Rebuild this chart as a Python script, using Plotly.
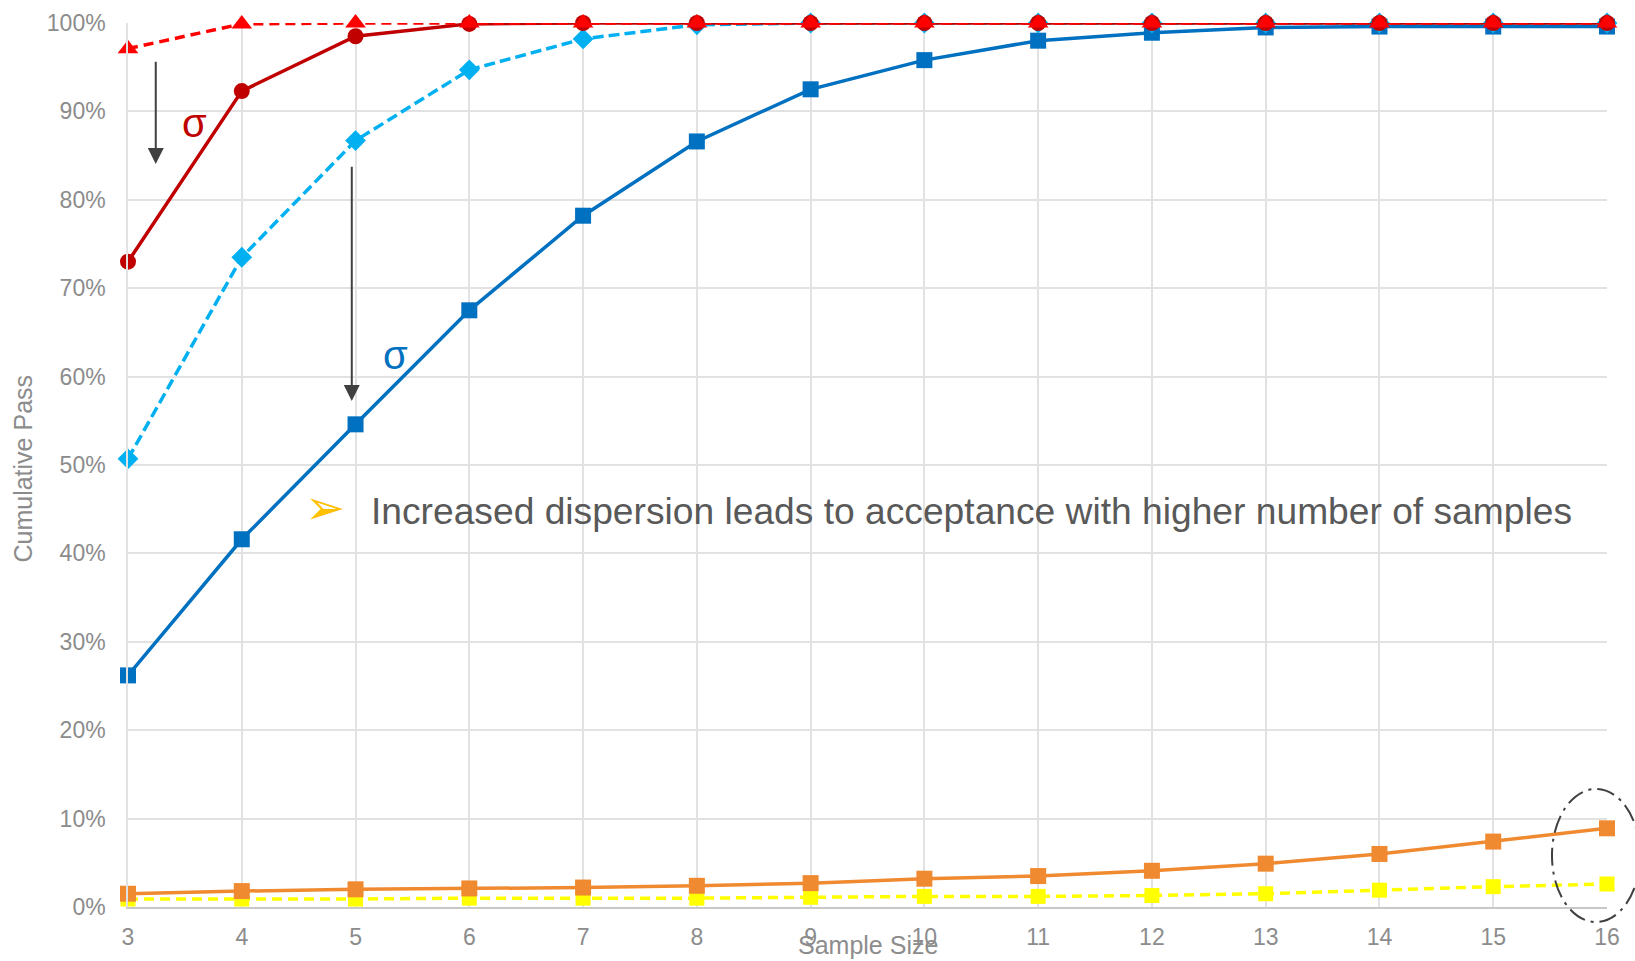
import plotly.graph_objects as go

# Sample sizes on the x axis
sample_size = list(range(3, 17))

# Cumulative pass rates per series (fractions)
red_dashed = [0.971, 0.999, 1.0, 1.0, 1.0, 1.0, 1.0, 1.0, 1.0, 1.0, 1.0, 1.0, 1.0, 1.0]
darkred_solid = [0.730, 0.923, 0.985, 0.999, 1.0, 1.0, 1.0, 1.0, 1.0, 1.0, 1.0, 1.0, 1.0, 1.0]
lightblue_dashed = [0.507, 0.735, 0.867, 0.947, 0.982, 0.998, 1.0, 1.0, 1.0, 1.0, 1.0, 1.0, 1.0, 1.0]
blue_solid = [0.262, 0.416, 0.546, 0.675, 0.782, 0.866, 0.925, 0.958, 0.980, 0.989, 0.995, 0.996, 0.996, 0.996]
orange_solid = [0.015, 0.018, 0.020, 0.021, 0.022, 0.024, 0.027, 0.032, 0.035, 0.041, 0.049, 0.060, 0.074, 0.089]
yellow_dashed = [0.009, 0.009, 0.009, 0.010, 0.010, 0.010, 0.011, 0.012, 0.012, 0.013, 0.015, 0.019, 0.023, 0.026]

y_ticks = [i / 10 for i in range(11)]
y_tick_text = [f"{i * 10}%" for i in range(11)]

FONT = "Liberation Sans, Arial, sans-serif"
GRID = "#E2E2E2"
TICK_GREY = "#8C8C8C"

fig = go.Figure()


def add_series(values, color, symbol, dash, size=15):
    fig.add_trace(go.Scatter(
        x=sample_size, y=values, mode="lines+markers",
        line=dict(color=color, width=3.5, dash=dash),
        marker=dict(color=color, symbol=symbol, size=size,
                    line=dict(color=color, width=0)),
        cliponaxis=False, showlegend=False, hoverinfo="x+y",
    ))


# drawn bottom to top
add_series(yellow_dashed, "#FFFF00", "square", "10px,6px", 15)
add_series(orange_solid, "#F08A30", "square", "solid", 16)
add_series(blue_solid, "#0070C0", "square", "solid", 16)
add_series(lightblue_dashed, "#00B0F0", "diamond", "11px,5px", 16)
add_series(darkred_solid, "#C00000", "circle", "solid", 16)
add_series(red_dashed, "#FF0000", "triangle-up", "10px,6px", 18)

annotations = [
    # axis titles
    dict(text="Sample Size", xref="paper", yref="paper", x=0.5, y=-0.043,
         xanchor="center", yanchor="middle", showarrow=False,
         font=dict(family=FONT, size=25, color=TICK_GREY)),
    dict(text="Cumulative Pass", xref="paper", yref="paper", x=-0.071, y=0.496,
         xanchor="center", yanchor="middle", showarrow=False, textangle=-90,
         font=dict(family=FONT, size=25, color=TICK_GREY)),
    # sigma labels
    dict(text="σ", xref="x", yref="y", x=3.587, y=0.887, showarrow=False,
         xanchor="center", yanchor="middle",
         font=dict(family=FONT, size=40, color="#C00000")),
    dict(text="σ", xref="x", yref="y", x=5.354, y=0.625, showarrow=False,
         xanchor="center", yanchor="middle",
         font=dict(family=FONT, size=40, color="#0070C0")),
    # shift arrows
    dict(text="", xref="x", yref="y", axref="x", ayref="y",
         x=3.244, y=0.8405, ax=3.244, ay=0.958, showarrow=True,
         arrowhead=2, arrowsize=1.6, arrowwidth=2, arrowcolor="#404040"),
    dict(text="", xref="x", yref="y", axref="x", ayref="y",
         x=4.967, y=0.5724, ax=4.967, ay=0.839, showarrow=True,
         arrowhead=2, arrowsize=1.6, arrowwidth=2, arrowcolor="#404040"),
    # bullet note
    dict(text="➢", xref="paper", yref="paper", x=0.1335, y=0.452,
         xanchor="center", yanchor="middle", showarrow=False,
         font=dict(family="DejaVu Sans", size=48, color="#FFC000")),
    dict(text="Increased dispersion leads to acceptance with higher number of samples",
         xref="paper", yref="paper", x=0.163, y=0.448,
         xanchor="left", yanchor="middle", showarrow=False,
         font=dict(family=FONT, size=37.2, color="#595959")),
]

shapes = [
    dict(type="circle", xref="paper", yref="paper",
         x0=0.9628, x1=1.0223, y0=-0.017, y1=0.1335,
         line=dict(color="#404040", width=2, dash="18px,6px,3px,6px")),
]

fig.update_layout(
    width=1635, height=961,
    margin=dict(l=128, r=28, t=23, b=54, autoexpand=False),
    paper_bgcolor="white", plot_bgcolor="white",
    font=dict(family=FONT, color=TICK_GREY),
    annotations=annotations, shapes=shapes,
    xaxis=dict(range=[3, 16], tickmode="array", tickvals=sample_size,
               ticktext=[str(s) for s in sample_size], automargin=False,
               showgrid=True, gridcolor=GRID, gridwidth=1.5,
               showline=True, linecolor="#C8C8C8", linewidth=2,
               zeroline=False, ticks="", ticklabelstandoff=8,
               tickfont=dict(family=FONT, size=23, color=TICK_GREY)),
    yaxis=dict(range=[0, 1], tickmode="array", tickvals=y_ticks,
               ticktext=y_tick_text, automargin=False,
               showgrid=True, gridcolor=GRID, gridwidth=1.5,
               showline=True, linecolor=GRID, linewidth=1.5,
               zeroline=False, ticks="", ticklabelstandoff=16,
               tickfont=dict(family=FONT, size=23, color=TICK_GREY)),
)

fig.write_html("out.html")
